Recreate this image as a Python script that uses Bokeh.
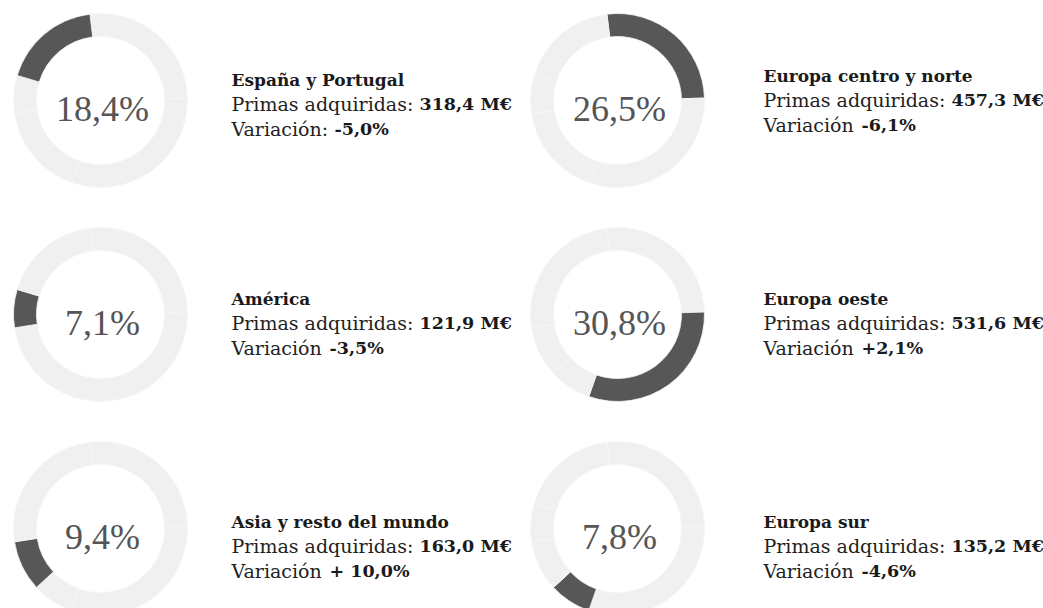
import math
from bokeh.plotting import figure
from bokeh.models import Range1d, ColumnDataSource
from bokeh.core.properties import value
from bokeh.embed import file_html
from bokeh.resources import INLINE

# ---------------- data ----------------
regions = ["España y Portugal", "Europa centro y norte", "América",
           "Europa oeste", "Asia y resto del mundo", "Europa sur"]
shares = [18.4, 26.5, 7.1, 30.8, 9.4, 7.8]            # % of total premiums
primas = [318.4, 457.3, 121.9, 531.6, 163.0, 135.2]   # M€
variacion_labels = ["-5,0%", "-6,1%", "-3,5%", "+2,1%", "+ 10,0%", "-4,6%"]
variacion_prefix = ["Variación: ", "Variación ", "Variación ", "Variación ",
                    "Variación ", "Variación "]
# order of the slices around each ring, clockwise from the top
ring_order = ["Europa centro y norte", "Europa oeste", "Europa sur",
              "Asia y resto del mundo", "América", "España y Portugal"]

# ---------------- layout ----------------
W, H = 1043, 608
def Y(py):
    return H - py

col_cx = [100, 617]
col_tx = [231, 763]
row_cy = [100, 314, 528]
title_base = [79, 75, 298, 298, 521, 521]
LINE = 24.5
R_OUT, R_IN = 87, 64
START_OFFSET = -7.0   # degrees clockwise from 12 o'clock

DARK = "#575757"
LIGHT = "#f0f0f0"

p = figure(width=W, height=H, output_backend="svg", toolbar_location=None,
           x_range=Range1d(0, W), y_range=Range1d(0, H),
           min_border=0, min_border_left=0, min_border_right=0,
           min_border_top=0, min_border_bottom=0)
p.axis.visible = False
p.grid.visible = False
p.outline_line_color = None
p.background_fill_color = "white"
p.border_fill_color = "white"

share_of = dict(zip(regions, shares))

wx, wy, ws, we, wc = [], [], [], [], []
for i, reg in enumerate(regions):
    cx = col_cx[i % 2]
    cy = row_cy[i // 2]
    cum = START_OFFSET
    for r in ring_order:
        span = share_of[r] / 100.0 * 360.0
        t1, t2 = cum, cum + span
        cum = t2
        wx.append(cx)
        wy.append(Y(cy))
        ws.append(math.radians(90 - t2))
        we.append(math.radians(90 - t1))
        wc.append(DARK if r == reg else LIGHT)

src = ColumnDataSource(dict(x=wx, y=wy, s=ws, e=we, c=wc))
p.annular_wedge(x="x", y="y", inner_radius=R_IN, outer_radius=R_OUT,
                start_angle="s", end_angle="e", fill_color="c",
                line_color="#f6f6f6", line_width=0.8, source=src)

def fmt(v):
    return f"{v:.1f}".replace(".", ",")

# percentage in the middle of each ring
p.text(x=[col_cx[i % 2] + 2 for i in range(6)],
       y=[Y(row_cy[i // 2] + 8) for i in range(6)],
       text=[fmt(s) + "%" for s in shares],
       text_font=value("Liberation Serif"), text_font_size="36px",
       text_color="#555555", text_align="center", text_baseline="alphabetic")

tx = [col_tx[i % 2] for i in range(6)]
tb = title_base

# titles
p.text(x=tx, y=[Y(b) for b in tb], text=regions,
       text_font=value("DejaVu Serif"), text_font_style="bold",
       text_font_size="17px", text_color="#1a1a1a",
       text_align="left", text_baseline="alphabetic")

# primas line
p.text(x=tx, y=[Y(b + LINE) for b in tb], text=["Primas adquiridas:"] * 6,
       text_font=value("DejaVu Serif"), text_font_size="19px",
       text_color="#222222", text_align="left", text_baseline="alphabetic")
p.text(x=[x + 188 for x in tx], y=[Y(b + LINE) for b in tb],
       text=[fmt(v) + " M€" for v in primas],
       text_font=value("DejaVu Serif"), text_font_style="bold",
       text_font_size="17.5px", text_color="#1a1a1a",
       text_align="left", text_baseline="alphabetic")

# variacion line
p.text(x=tx, y=[Y(b + 2 * LINE) for b in tb],
       text=[s.strip() for s in variacion_prefix],
       text_font=value("DejaVu Serif"), text_font_size="19px",
       text_color="#222222", text_align="left", text_baseline="alphabetic")
p.text(x=[x + (103 if pre.strip().endswith(":") else 98) for x, pre in zip(tx, variacion_prefix)],
       y=[Y(b + 2 * LINE) for b in tb],
       text=variacion_labels,
       text_font=value("DejaVu Serif"), text_font_style="bold",
       text_font_size="17.5px", text_color="#1a1a1a",
       text_align="left", text_baseline="alphabetic")

open("out.html", "w").write(file_html(p, INLINE))
